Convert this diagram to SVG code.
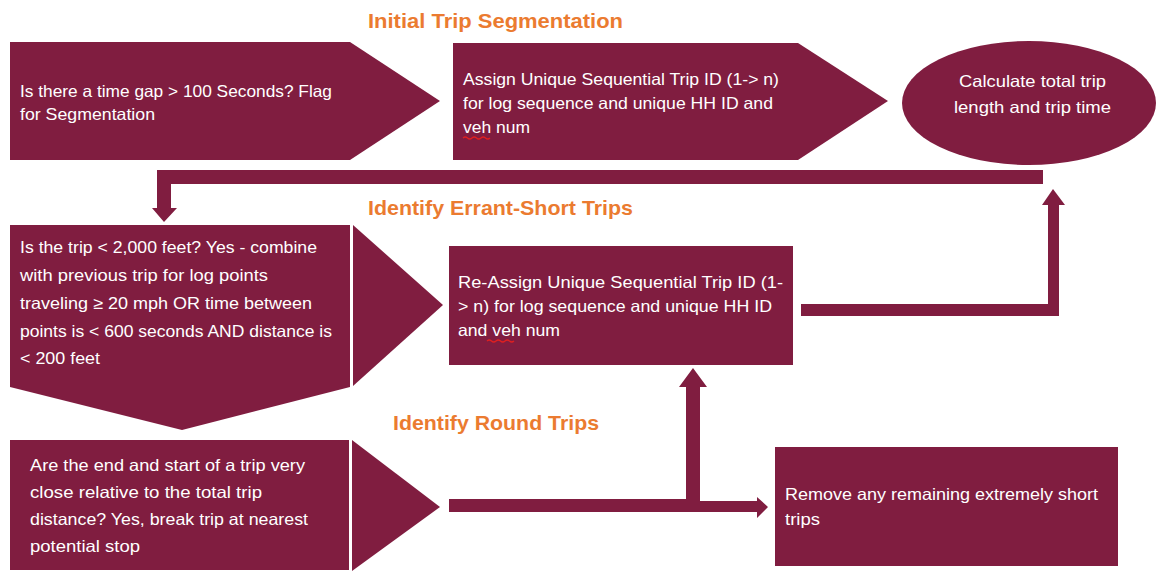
<svg xmlns="http://www.w3.org/2000/svg" width="1156" height="571" viewBox="0 0 1156 571">
<style>
.shape{fill:#801d40;}
.conn{fill:#801d40;}
.t{font-family:"Liberation Sans",Arial,sans-serif;font-size:16.5px;fill:#ffffff;}
.h{font-family:"Liberation Sans",Arial,sans-serif;font-size:21px;font-weight:bold;fill:#eb7b30;}
.sq{fill:none;stroke:#e02020;stroke-width:1.2;}
</style>
<rect x="0" y="0" width="1156" height="571" fill="#ffffff"/>
<g id="titles">
<text class="h" x="368" y="28" textLength="255" lengthAdjust="spacingAndGlyphs">Initial Trip Segmentation</text>
<text class="h" x="368" y="215" textLength="265" lengthAdjust="spacingAndGlyphs">Identify Errant-Short Trips</text>
<text class="h" x="393" y="430" textLength="206" lengthAdjust="spacingAndGlyphs">Identify Round Trips</text>
</g>
<g id="connectors">
<polygon class="conn" points="1043,170 1043,184 171,184 171,208 177,208 164,222 152,208 157,208 157,170"/>
<polygon class="conn" points="801,304 1048,304 1048,205 1042,205 1053,189 1065,205 1059,205 1059,316 801,316"/>
<polygon class="conn" points="449,499 686,499 686,387 679,387 693,368 707,387 700,387 700,501 757,501 757,497 768,507 757,518 757,512 449,512"/>
</g>
<g id="node-gap">
<polygon class="shape" points="10,42 350,42 440,101 350,160 10,160"/>
<text class="t" x="20" y="97" textLength="312" lengthAdjust="spacingAndGlyphs">Is there a time gap &gt; 100 Seconds? Flag</text>
<text class="t" x="20" y="120" textLength="135" lengthAdjust="spacingAndGlyphs">for Segmentation</text>
</g>
<g id="node-assign">
<polygon class="shape" points="453,43 798,43 888,101 798,160 453,160"/>
<text class="t" x="463" y="85" textLength="316" lengthAdjust="spacingAndGlyphs">Assign Unique Sequential Trip ID (1-&gt; n)</text>
<text class="t" x="463" y="109" textLength="310" lengthAdjust="spacingAndGlyphs">for log sequence and unique HH ID and</text>
<text class="t" x="463" y="133" textLength="67" lengthAdjust="spacingAndGlyphs">veh num</text>
<path class="sq" d="M463,138 q2.25,-2 4.5,0 t4.5,0 t4.5,0 t4.5,0 t4.5,0 t4.5,0"/>
</g>
<g id="node-calc">
<ellipse class="shape" cx="1029" cy="103" rx="127" ry="62"/>
<text class="t" x="959" y="87" textLength="147" lengthAdjust="spacingAndGlyphs">Calculate total trip</text>
<text class="t" x="954" y="113" textLength="157" lengthAdjust="spacingAndGlyphs">length and trip time</text>
</g>
<g id="node-errant">
<polygon class="shape" points="10,225 350,225 350,387 182,430 10,387"/>
<polygon class="shape" points="353,225 443,305 353,386"/>
<text class="t" x="20" y="253" textLength="297" lengthAdjust="spacingAndGlyphs">Is the trip &lt; 2,000 feet? Yes - combine</text>
<text class="t" x="20" y="281" textLength="248" lengthAdjust="spacingAndGlyphs">with previous trip for log points</text>
<text class="t" x="20" y="309" textLength="292" lengthAdjust="spacingAndGlyphs">traveling ≥ 20 mph OR time between</text>
<text class="t" x="20" y="337" textLength="312" lengthAdjust="spacingAndGlyphs">points is &lt; 600 seconds AND distance is</text>
<text class="t" x="20" y="364" textLength="80" lengthAdjust="spacingAndGlyphs">&lt; 200 feet</text>
</g>
<g id="node-reassign">
<rect class="shape" x="449" y="246" width="344" height="119"/>
<text class="t" x="458" y="288" textLength="325" lengthAdjust="spacingAndGlyphs">Re-Assign Unique Sequential Trip ID (1-</text>
<text class="t" x="458" y="312" textLength="314" lengthAdjust="spacingAndGlyphs">&gt; n) for log sequence and unique HH ID</text>
<text class="t" x="458" y="336" textLength="102" lengthAdjust="spacingAndGlyphs">and veh num</text>
<path class="sq" d="M487,341 q2.25,-2 4.5,0 t4.5,0 t4.5,0 t4.5,0 t4.5,0 t4.5,0"/>
</g>
<g id="node-round">
<rect class="shape" x="10" y="440" width="339" height="130"/>
<polygon class="shape" points="352,440 440,507 352,571"/>
<text class="t" x="30" y="471" textLength="275" lengthAdjust="spacingAndGlyphs">Are the end and start of a trip very</text>
<text class="t" x="30" y="498" textLength="232" lengthAdjust="spacingAndGlyphs">close relative to the total trip</text>
<text class="t" x="30" y="525" textLength="278" lengthAdjust="spacingAndGlyphs">distance? Yes, break trip at nearest</text>
<text class="t" x="30" y="552" textLength="110" lengthAdjust="spacingAndGlyphs">potential stop</text>
</g>
<g id="node-remove">
<rect class="shape" x="775" y="447" width="343" height="119"/>
<text class="t" x="785" y="500" textLength="313" lengthAdjust="spacingAndGlyphs">Remove any remaining extremely short</text>
<text class="t" x="785" y="525" textLength="35" lengthAdjust="spacingAndGlyphs">trips</text>
</g>
</svg>
